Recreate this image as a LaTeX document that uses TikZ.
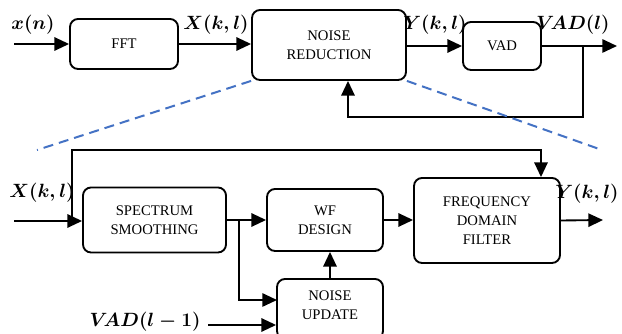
\documentclass[tikz,border=0pt]{standalone}
\usepackage{amsmath,amssymb}
\usepackage{fontspec}
\setmainfont{Liberation Serif}
\usetikzlibrary{arrows.meta}

\begin{document}
\begin{tikzpicture}[x=0.75pt,y=-0.75pt,
    block/.style={draw, line width=1.4pt, rounded corners=6pt, align=center,
                  font=\fontsize{11}{14.5}\selectfont},
    sig/.style={font=\fontsize{14.5}{17}\selectfont\boldmath},
    arr/.style={line width=1.4pt, -{Triangle[length=11pt,width=10pt]}},
    zoomline/.style={dashed, dash pattern=on 7.5pt off 4.5pt, line width=1.5pt, color=zoomblue}]
    \definecolor{zoomblue}{RGB}{68,114,196}
    \useasboundingbox (0,0) rectangle (622,334);
    \clip (0,0) rectangle (622,334);

    % --- Top chain: FFT -> noise reduction -> VAD ---
    \node[block, minimum width=81pt, minimum height=37.5pt] (fft) at (124,44) {FFT};
    \node[block, minimum width=115.5pt, minimum height=52.5pt] (nr) at (329,45) {NOISE\\REDUCTION};
    \node[block, minimum width=58.5pt, minimum height=36pt] (vad) at (502,46) {VAD};

    \coordinate (xn) at (14,44);
    \coordinate (vout) at (617,46);
    \coordinate (tap) at (583,46);
    \coordinate (fb) at (348,117);

    \draw[arr] (xn) -- (fft.west);
    \draw[arr] (fft.east) -- (fft.east -| nr.west);
    \draw[arr] (vad.west -| nr.east) -- (vad.west);
    \draw[arr] (vad.east) -- (vout);
    % VAD decision fed back into the noise reduction
    \draw[arr] (tap) |- (fb) -- (fb |- nr.south);

    \node[sig] (lxn) at (33,25) {$x(n)$};
    \node[sig] (lxtop) at (216,25) {$X(k,l)$};
    \node[sig] (lytop) at (435,25) {$Y(k,l)$};
    \node[sig] (lvad) at (573,25) {$V\!AD(l)$};

    % --- Zoom lines from the noise reduction block ---
    \coordinate (zl) at (37,150);
    \coordinate (zr) at (602,150);
    \draw[zoomline] (nr.south west) -- (zl);
    \draw[zoomline] (nr.south east) -- (zr);

    % --- Inside the noise reduction ---
    \node[block, minimum width=107.25pt, minimum height=48.75pt] (ss) at (154.5,220) {SPECTRUM\\SMOOTHING};
    \node[block, minimum width=87pt, minimum height=46.5pt] (wf) at (325,220) {WF\\DESIGN};
    \node[block, minimum width=79.5pt, minimum height=45pt, text depth=6pt] (nu) at (330,309) {NOISE\\UPDATE};
    \node[block, minimum width=109.5pt, minimum height=63.75pt] (fdf) at (487,220.5) {FREQUENCY\\DOMAIN\\FILTER};

    \coordinate (xin) at (14,221);
    \coordinate (xsp) at (72,221);
    \coordinate (byp) at (541,150);
    \coordinate (br) at (239,220);
    \coordinate (nu1) at (277,300);
    \coordinate (vin) at (208,325);
    \coordinate (yout) at (603,220);

    \draw[arr] (xin) -- (xin -| ss.west);
    \draw[arr] (xsp) |- (byp) -- (byp |- fdf.north);
    \draw[arr] (ss.east) -- (wf.west);
    \draw[arr] (br) |- (nu1);
    \draw[arr] (vin) -- (vin -| nu.west);
    \draw[arr] (nu.north) -- (nu.north |- wf.south);
    \draw[arr] (wf.east) -- (wf.east -| fdf.west);
    \draw[arr] (fdf.east) -- (yout);

    \node[sig] (lxin) at (42,193) {$X(k,l)$};
    \node[sig] (lyout) at (587,194) {$Y(k,l)$};
    \node[sig] (lvin) at (145,322) {$V\!AD(l-1)$};
\end{tikzpicture}
\end{document}
